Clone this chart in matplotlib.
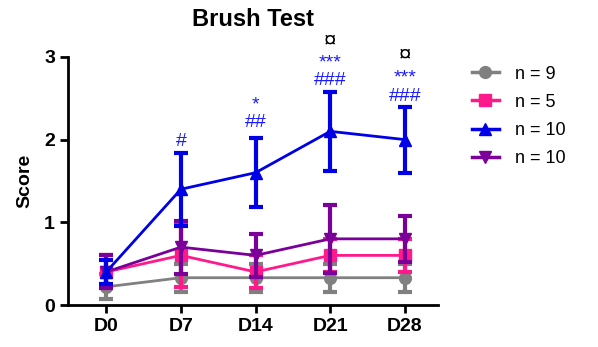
import numpy as np
import matplotlib.pyplot as plt
from matplotlib.lines import Line2D

plt.rcParams['font.family'] = ['Liberation Sans', 'DejaVu Sans']

days = ['D0', 'D7', 'D14', 'D21', 'D28']
labels = ['n = 9', 'n = 5', 'n = 10', 'n = 10']
colors = ['#808080', '#FF1A8C', '#0000E6', '#7A0099']
markers = ['o', 's', '^', 'v']

gray_mean = [0.22, 0.33, 0.33, 0.33, 0.33]
gray_err = [0.15, 0.17, 0.17, 0.17, 0.17]
pink_mean = [0.4, 0.6, 0.4, 0.6, 0.6]
pink_err = [0.2, 0.38, 0.2, 0.2, 0.2]
blue_mean = [0.4, 1.4, 1.6, 2.1, 2.0]
blue_err = [0.15, 0.44, 0.42, 0.48, 0.4]
purple_mean = [0.4, 0.7, 0.6, 0.8, 0.8]
purple_err = [0.2, 0.32, 0.26, 0.41, 0.28]

means = [gray_mean, pink_mean, blue_mean, purple_mean]
errs = [gray_err, pink_err, blue_err, purple_err]

# significance marks: (day index, y, text, colour)
marks = [(1, 1.98, '#', 'b'),
         (2, 2.42, '*', 'b'), (2, 2.21, '##', 'b'),
         (3, 3.19, '¤', 'k'), (3, 2.93, '***', 'b'), (3, 2.72, '###', 'b'),
         (4, 3.02, '¤', 'k'), (4, 2.74, '***', 'b'), (4, 2.52, '###', 'b')]

fig = plt.figure(figsize=(5.98, 3.47), dpi=100)
ax = fig.add_axes([0.114, 0.121, 0.618, 0.715])
x = np.arange(len(days))

order = [0, 1, 3, 2]
for z, i in enumerate(order):
    ax.errorbar(x, means[i], yerr=errs[i], color=colors[i], marker=markers[i],
                markersize=8.5, lw=2, elinewidth=3, capsize=5, capthick=3,
                clip_on=False, zorder=3 + z)

for d, y, t, c in marks:
    ax.text(d, y, t, color='#1a1aff' if c == 'b' else 'black', ha='center',
            va='center', fontsize=14 if c == 'b' else 16, clip_on=False)

ax.set_xlim(-0.51, 4.44)
ax.set_ylim(0, 3)
ax.set_yticks([0, 1, 2, 3])
ax.set_xticks(x)
ax.set_xticklabels(days)
for s in ['top', 'right']:
    ax.spines[s].set_visible(False)
for s in ['left', 'bottom']:
    ax.spines[s].set_linewidth(2)
ax.tick_params(width=2, length=6)
for lab in ax.get_xticklabels() + ax.get_yticklabels():
    lab.set_fontweight('bold')
    lab.set_fontsize(14)
ax.set_ylabel('Score', fontsize=14, fontweight='bold', labelpad=8)
ax.set_title('Brush Test', fontsize=17, fontweight='bold', pad=22)

handles = [Line2D([], [], color=colors[i], marker=markers[i], markersize=8.5,
                  lw=2.5) for i in range(4)]
fig.legend(handles, labels, loc='upper left', bbox_to_anchor=(0.762, 0.858),
           frameon=False, fontsize=13, handlelength=1.5, labelspacing=0.62,
           handletextpad=0.9)

fig.savefig('out.png', dpi=100)
